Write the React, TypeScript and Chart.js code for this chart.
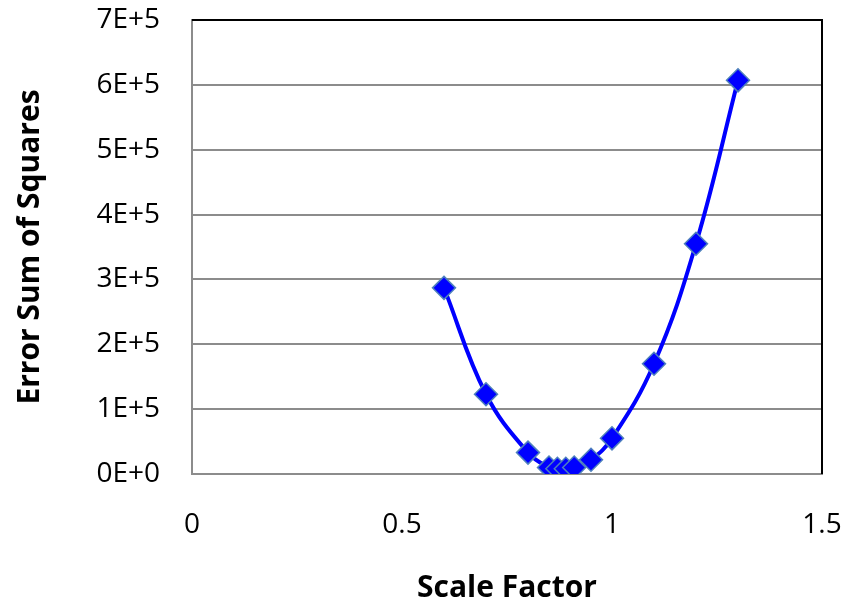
import React, { useEffect, useRef } from "react";
import { Chart, registerables } from "chart.js";

Chart.register(...registerables);

// Scale factor vs. error sum of squares
const scaleFactors = [0.6, 0.7, 0.8, 0.85, 0.87, 0.89, 0.91, 0.95, 1.0, 1.1, 1.2, 1.3];
const errorSums = [287000, 123000, 33000, 10000, 8000, 8000, 10000, 22000, 55000, 170000, 355000, 607000];

const xTicks = [0, 0.5, 1, 1.5];
const yMax = 700000;

const FONT = "'Open Sans', Lato, 'Liberation Sans', sans-serif";

// Black frame on the top and right edges of the plot area
const frame = {
  id: "frame",
  afterDraw(chart: any) {
    const { ctx, chartArea } = chart;
    ctx.save();
    ctx.strokeStyle = "#000000";
    ctx.lineWidth = 2;
    ctx.beginPath();
    ctx.moveTo(chartArea.left, chartArea.top);
    ctx.lineTo(chartArea.right, chartArea.top);
    ctx.lineTo(chartArea.right, chartArea.bottom);
    ctx.stroke();
    ctx.restore();
  },
};

const clearPadding = (scale: any) => {
  scale.paddingTop = 0;
  scale.paddingBottom = 0;
  scale.paddingLeft = 0;
  scale.paddingRight = 0;
};

export default function App() {
  const canvasRef = useRef<HTMLCanvasElement | null>(null);

  useEffect(() => {
    const canvas = canvasRef.current;
    if (!canvas) return;
    const chart = new Chart(canvas, {
      type: "line",
      data: {
        datasets: [
          {
            data: scaleFactors.map((x, i) => ({ x, y: errorSums[i] })),
            borderColor: "#0000ff",
            borderWidth: 4,
            backgroundColor: "#0000ff",
            pointStyle: "rectRot",
            pointRadius: 11.5,
            pointBorderColor: "#4f81bd",
            pointBorderWidth: 1.5,
            pointBackgroundColor: "#0000ff",
            tension: 0.4,
            fill: false,
          },
        ],
      },
      options: {
        animation: false,
        responsive: false,
        maintainAspectRatio: false,
        layout: { padding: { top: 20, right: 24, left: 0, bottom: 0 } },
        plugins: {
          legend: { display: false },
          tooltip: { enabled: false },
        },
        scales: {
          x: {
            type: "linear",
            min: 0,
            max: 1.5,
            afterBuildTicks: (scale: any) => {
              scale.ticks = xTicks.map((v) => ({ value: v }));
            },
            afterFit: (scale: any) => {
              scale.height = 132;
              clearPadding(scale);
            },
            ticks: {
              color: "#000000",
              font: { family: FONT, size: 28 },
              padding: 34,
              maxRotation: 0,
              callback: (v: any) => String(v),
            },
            grid: { display: false, drawTicks: false },
            border: { display: true, color: "#8c8c8c", width: 2 },
            title: {
              display: true,
              text: "Scale Factor",
              color: "#000000",
              font: { family: FONT, size: 30, weight: "bold" },
              padding: { top: 10, bottom: 0 },
            },
          },
          y: {
            type: "linear",
            min: 0,
            max: yMax,
            afterFit: (scale: any) => {
              scale.width = 192;
              clearPadding(scale);
            },
            ticks: {
              stepSize: 100000,
              color: "#000000",
              font: { family: FONT, size: 28 },
              padding: 32,
              callback: (v: any) => (v === 0 ? "0E+0" : `${Math.round(v / 100000)}E+5`),
            },
            grid: { color: "#8c8c8c", lineWidth: 2, drawTicks: false },
            border: { display: true, color: "#8c8c8c", width: 2 },
            title: {
              display: true,
              text: "Error Sum of Squares",
              color: "#000000",
              font: { family: FONT, size: 30, weight: "bold" },
              padding: { top: 12, bottom: 10 },
            },
          },
        },
      },
      plugins: [frame],
    });
    return () => chart.destroy();
  }, []);

  return (
    <div style={{ position: "fixed", left: 0, top: 0, width: 846, height: 606, background: "#ffffff" }}>
      <canvas ref={canvasRef} width={846} height={606} />
    </div>
  );
}
